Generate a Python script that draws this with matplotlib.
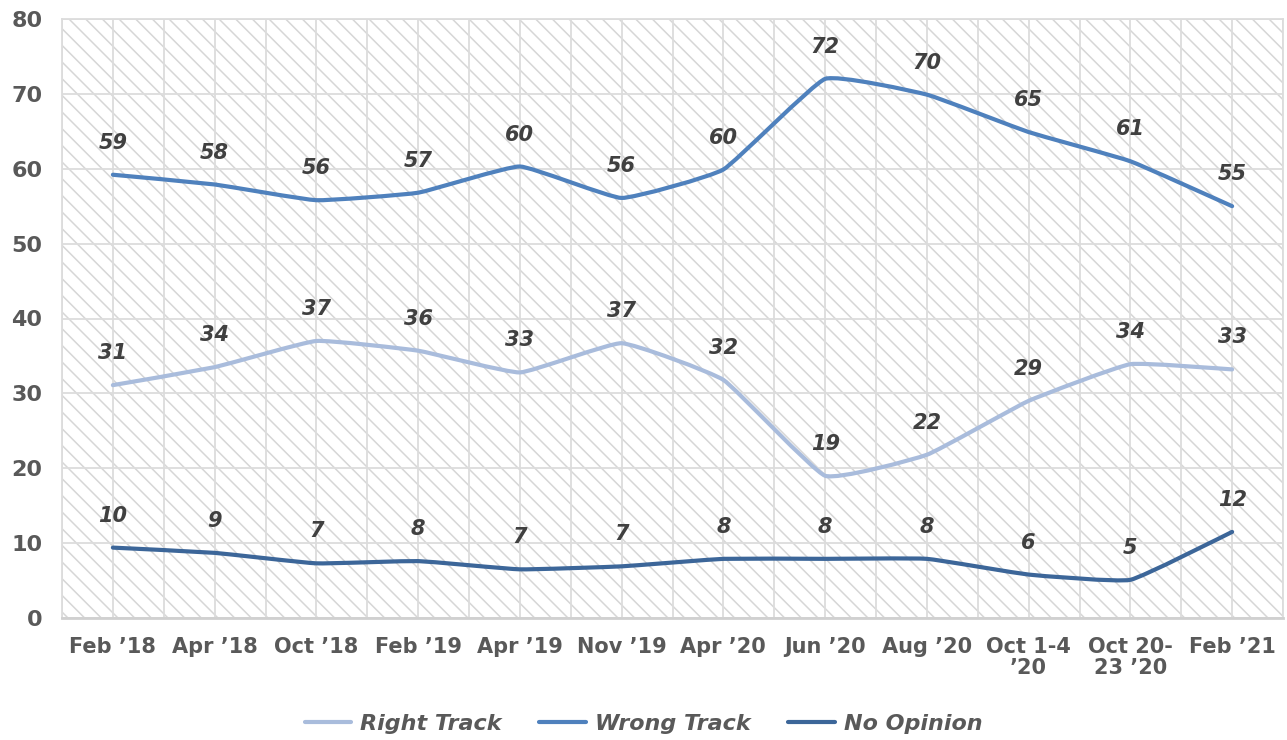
import numpy as np
import matplotlib
matplotlib.use("Agg")
import matplotlib.pyplot as plt
from matplotlib.path import Path
from matplotlib.patches import PathPatch, Rectangle
from matplotlib.lines import Line2D

plt.rcParams['font.family'] = ['DejaVu Sans']

categories = ["Feb ’18", "Apr ’18", "Oct ’18", "Feb ’19", "Apr ’19", "Nov ’19",
              "Apr ’20", "Jun ’20", "Aug ’20", "Oct 1-4\n’20", "Oct 20-\n23 ’20", "Feb ’21"]

right_track = [31.1, 33.5, 37.0, 35.7, 32.8, 36.7, 31.8, 19.0, 21.8, 29.0, 33.9, 33.2]
wrong_track = [59.2, 57.9, 55.8, 56.8, 60.3, 56.1, 59.9, 72.0, 69.9, 64.9, 61.0, 55.0]
no_opinion = [9.4, 8.7, 7.3, 7.6, 6.5, 6.9, 7.9, 7.9, 7.9, 5.8, 5.1, 11.5]

right_labels = [31, 34, 37, 36, 33, 37, 32, 19, 22, 29, 34, 33]
wrong_labels = [59, 58, 56, 57, 60, 56, 60, 72, 70, 65, 61, 55]
no_labels = [10, 9, 7, 8, 7, 7, 8, 8, 8, 6, 5, 12]

series_names = ["Right Track", "Wrong Track", "No Opinion"]
colors = ["#A9BCDC", "#4F81BD", "#3C6699"]

W, H = 1287, 740
fig = plt.figure(figsize=(W / 100, H / 100), dpi=100)
ax = fig.add_axes([62 / W, 1 - 618 / H, (1283 - 62) / W, (618 - 19) / H])

n = len(categories)
x = np.arange(n)
ax.set_xlim(-0.5, n - 0.5)
ax.set_ylim(0, 80)

# hatched background
plt.rcParams['hatch.color'] = '#D6D6D6'
plt.rcParams['hatch.linewidth'] = 1.1
bg = Rectangle((0, 0), 1, 1, transform=ax.transAxes, facecolor='white',
               edgecolor='#D6D6D6', hatch='\\\\', linewidth=0, zorder=0)
ax.add_patch(bg)

# grid
for gx in np.arange(-0.5, n, 0.5):
    ax.axvline(gx, color='#DCDCDC', lw=1.3, zorder=1)
for gy in range(0, 81, 10):
    ax.axhline(gy, color='#DCDCDC', lw=1.3, zorder=1)

for s in ['top', 'left', 'right']:
    ax.spines[s].set_color('#DCDCDC')
    ax.spines[s].set_linewidth(1.3)
ax.spines['bottom'].set_color('#D0D0D0')
ax.spines['bottom'].set_linewidth(2)


def smooth_patch(xs, ys, color, k=0.06):
    pts = np.column_stack([xs, ys]).astype(float)
    m = len(pts)
    verts = [tuple(pts[0])]
    codes = [Path.MOVETO]
    for i in range(m - 1):
        p0 = pts[max(i - 1, 0)]
        p1 = pts[i]
        p2 = pts[i + 1]
        p3 = pts[min(i + 2, m - 1)]
        c1 = p1 + (p2 - p0) * k
        c2 = p2 - (p3 - p1) * k
        verts += [tuple(c1), tuple(c2), tuple(p2)]
        codes += [Path.CURVE4] * 3
    return PathPatch(Path(verts, codes), facecolor='none', edgecolor=color,
                     lw=3.0, capstyle='round', joinstyle='round', zorder=3)


all_vals = [right_track, wrong_track, no_opinion]
all_labels = [right_labels, wrong_labels, no_labels]
for vals, labs, c in zip(all_vals, all_labels, colors):
    ax.add_patch(smooth_patch(x, vals, c))
    for xi, v, lab in zip(x, vals, labs):
        ax.annotate(str(lab), (xi, v), xytext=(0, 23), textcoords='offset points',
                    ha='center', va='center', fontsize=15, fontweight='bold',
                    fontstyle='italic', color='#404040', zorder=4)

ax.set_xticks(x)
ax.set_xticklabels(categories, fontsize=15, fontweight='bold', color='#595959',
                   linespacing=1.05, va='top')
ax.set_yticks(range(0, 81, 10))
ax.set_yticklabels([str(v) for v in range(0, 81, 10)], fontsize=16,
                   fontweight='bold', color='#595959')
ax.tick_params(axis='both', length=0)
ax.tick_params(axis='x', pad=14)
ax.tick_params(axis='y', pad=14)

handles = [Line2D([0], [0], color=c, lw=3.0, solid_capstyle='round') for c in colors]
leg = fig.legend(handles, series_names, loc='center', bbox_to_anchor=(0.5, 1 - 724 / H),
                 ncol=3, frameon=False, handlelength=2.1, handletextpad=0.4,
                 columnspacing=1.7,
                 prop={'size': 16, 'weight': 'bold', 'style': 'italic'})
for t in leg.get_texts():
    t.set_color('#595959')

fig.savefig('out.png', dpi=100)
